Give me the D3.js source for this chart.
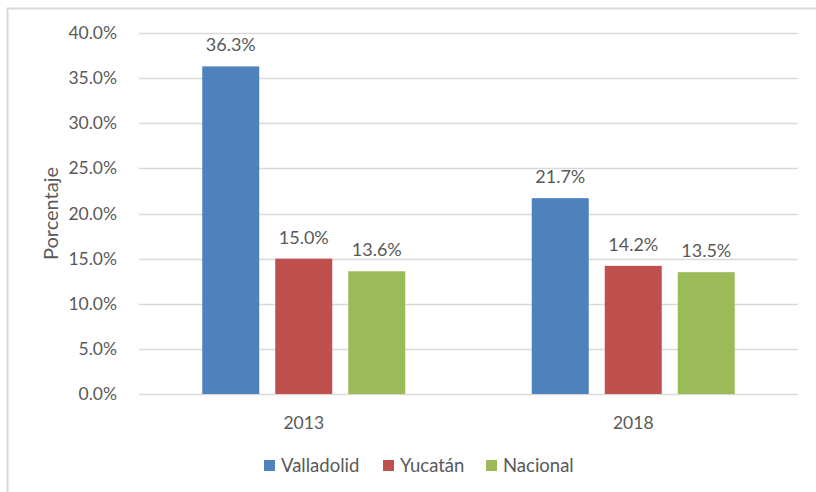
<!DOCTYPE html>
<html>
<head>
<meta charset="utf-8">
<script src="https://cdn.jsdelivr.net/npm/d3@7"></script>
<style>
  body { margin: 0; background: #fff; }
  text { font-family: "Lato", "Open Sans", sans-serif; fill: #595959; }
</style>
</head>
<body>
<div id="chart"></div>
<script>
const years = ["2013", "2018"];
const seriesNames = ["Valladolid", "Yucatán", "Nacional"];
const valladolid = [36.3, 21.7];
const yucatan = [15.0, 14.2];
const nacional = [13.6, 13.5];
const yTicks = [0, 5, 10, 15, 20, 25, 30, 35, 40];

const colors = ["#4F81BD", "#C0504D", "#9BBB59"];
const values = [valladolid, yucatan, nacional];

const data = years.map((yr, i) => ({
    year: yr,
    vals: seriesNames.map((s, j) => ({ name: s, value: values[j][i], color: colors[j] }))
}));

const W = 816, H = 492;
const margin = { top: 33, right: 18, bottom: 98, left: 139 };
const width = W - margin.left - margin.right;
const height = H - margin.top - margin.bottom;

const root = d3.select("#chart").append("svg")
    .attr("width", W)
    .attr("height", H);

// chart border
root.append("rect")
    .attr("x", 7.5).attr("y", 8.5)
    .attr("width", 830).attr("height", 500)
    .attr("fill", "none")
    .attr("stroke", "#d9d9d9")
    .attr("stroke-width", 2);

const svg = root.append("g")
    .attr("transform", `translate(${margin.left}, ${margin.top})`);

const x0 = d3.scaleBand()
    .domain(years)
    .range([0, width]);

const groupWidth = 203;
const x1 = d3.scaleBand()
    .domain(seriesNames)
    .range([0, groupWidth])
    .paddingInner(16 / 73);

const y = d3.scaleLinear()
    .domain([0, 40])
    .range([height, 0]);

// gridlines
svg.append("g")
    .selectAll("line")
    .data(yTicks)
    .enter().append("line")
    .attr("x1", 0).attr("x2", width)
    .attr("y1", d => Math.round(y(d)) + 0.5)
    .attr("y2", d => Math.round(y(d)) + 0.5)
    .attr("stroke", "#d9d9d9")
    .attr("stroke-width", 1.3);

// y axis labels
const yAxis = svg.append("g")
    .attr("transform", "translate(-19, 0)")
    .call(d3.axisLeft(y).tickValues(yTicks).tickSize(0).tickFormat(d => d.toFixed(1) + "%"));
yAxis.select(".domain").remove();
yAxis.selectAll("text")
    .style("font-size", "17.5px")
    .attr("fill", "#595959");

// x axis labels
const xAxis = svg.append("g")
    .attr("transform", `translate(0, ${height + 20})`)
    .call(d3.axisBottom(x0).tickSize(0));
xAxis.select(".domain").remove();
xAxis.selectAll("text")
    .style("font-size", "17.5px")
    .attr("fill", "#595959");

svg.append("text")
    .attr("transform", "rotate(-90)")
    .attr("x", -height / 2)
    .attr("y", -81)
    .attr("text-anchor", "middle")
    .style("font-size", "20px")
    .text("Porcentaje");

const groups = svg.selectAll(".group")
    .data(data)
    .enter().append("g")
    .attr("class", "group")
    .attr("transform", d => `translate(${x0(d.year) + (x0.bandwidth() - groupWidth) / 2}, 0)`);

groups.selectAll("rect")
    .data(d => d.vals)
    .enter().append("rect")
    .attr("x", d => x1(d.name))
    .attr("y", d => y(d.value))
    .attr("width", x1.bandwidth())
    .attr("height", d => height - y(d.value))
    .attr("fill", d => d.color);

groups.selectAll(".lbl")
    .data(d => d.vals)
    .enter().append("text")
    .attr("class", "lbl")
    .attr("x", d => x1(d.name) + x1.bandwidth() / 2)
    .attr("y", d => y(d.value) - 15)
    .attr("text-anchor", "middle")
    .style("font-size", "18px")
    .text(d => d.value.toFixed(1) + "%");

// legend
const legendX = [264, 383, 486];
const legend = root.append("g");
seriesNames.forEach((s, i) => {
    const g = legend.append("g").attr("transform", `translate(${legendX[i]}, 460)`);
    g.append("rect")
        .attr("width", 11).attr("height", 11)
        .attr("fill", colors[i]);
    g.append("text")
        .attr("x", 17).attr("y", 11.5)
        .style("font-size", "18.5px")
        .text(s);
});
</script>
</body>
</html>
